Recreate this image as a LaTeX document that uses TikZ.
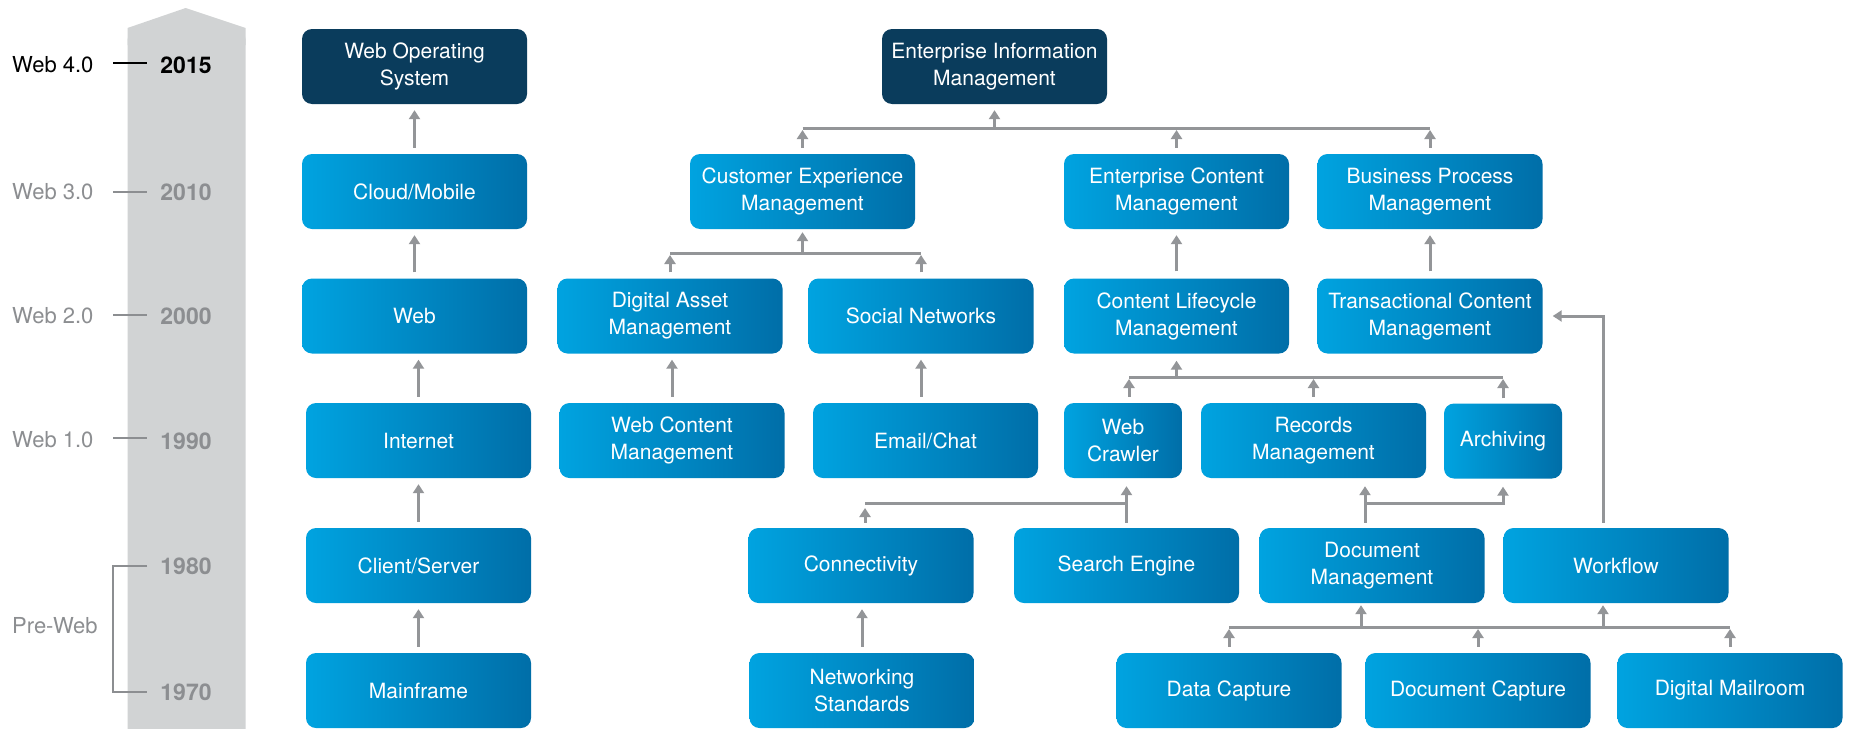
\documentclass[tikz,border=0pt]{standalone}
\usepackage{fontspec}
\setmainfont{TeX Gyre Heros}
\usetikzlibrary{arrows.meta}
\definecolor{boxL}{RGB}{0,163,224}
\definecolor{boxR}{RGB}{0,110,168}
\definecolor{darkc}{RGB}{10,60,92}
\definecolor{lgray}{RGB}{147,149,152}
\definecolor{band}{RGB}{209,211,212}
\definecolor{ygray}{RGB}{140,142,145}
\begin{document}
\begin{tikzpicture}[x=1pt,y=-1pt,
  basebox/.style={rounded corners=10pt, text=white, align=center, minimum width=225pt, minimum height=75pt, inner sep=0pt, font=\fontsize{21}{27}\selectfont},
  box/.style={basebox, left color=boxL, right color=boxR},
  darkbox/.style={basebox, fill=darkc},
  smallbox/.style={box, minimum width=118pt},
  arr/.style={draw=lgray, line width=3pt, -{Triangle[width=11pt,length=9pt]}},
  ln/.style={draw=lgray, line width=3pt},
  tick/.style={line width=2pt},
  lab/.style={anchor=west, inner sep=0pt, font=\fontsize{22}{22}\selectfont},
  yr/.style={inner sep=0pt, font=\bfseries\fontsize{23}{23}\selectfont},
]
\useasboundingbox (0,0) rectangle (1851,728);
\fill[white] (0,0) rectangle (1851,728);
% timeline band
\fill[band, rounded corners=10pt] (127.5,30) rectangle (245.7,738);
\fill[band] (127.5,45) -- (127.5,28) -- (185.7,8) -- (245.7,28) -- (245.7,45) -- cycle;
% labels
\node[lab, text=black] (w4) at (12,65) {Web 4.0};
\node[yr, text=black] (y15) at (186,65) {2015};
\draw[tick, black] (113,63) -- (147,63);
\node[lab, text=ygray] (w3) at (12,192) {Web 3.0};
\node[yr, text=ygray] (y10) at (186,192) {2010};
\draw[tick, ygray] (113,191.5) -- (147,191.5);
\node[lab, text=ygray] (w2) at (12,316) {Web 2.0};
\node[yr, text=ygray] (y00) at (186,316) {2000};
\draw[tick, ygray] (113,314.5) -- (147,314.5);
\node[lab, text=ygray] (w1) at (12,440) {Web 1.0};
\node[yr, text=ygray] (y90) at (186,441) {1990};
\draw[tick, ygray] (113,437.5) -- (147,437.5);
\node[yr, text=ygray] (y80) at (186,566) {1980};
\node[yr, text=ygray] (y70) at (186,692) {1970};
\node[lab, text=ygray] (pw) at (12,626) {Pre-Web};
\draw[tick, ygray] (147,566) -- (113,566) -- (113,692) -- (147,692);

% left column
\node[darkbox] (webos) at (414.5,66.5) {Web Operating\\System};
\node[box] (cloud) at (414.5,191.5) {Cloud/Mobile};
\node[box] (web) at (414.5,316) {Web};
\node[box] (inet) at (418.5,440.5) {Internet};
\node[box] (cs) at (418.5,565.5) {Client/Server};
\node[box] (mf) at (418.5,690.5) {Mainframe};

% right part
\node[darkbox] (eim) at (994.5,66.5) {Enterprise Information\\Management};
\node[box] (cem) at (802.5,191.5) {Customer Experience\\Management};
\node[box] (ecm) at (1176.5,191.5) {Enterprise Content\\Management};
\node[box] (bpm) at (1430,191.5) {Business Process\\Management};
\node[box] (dam) at (670,316) {Digital Asset\\Management};
\node[box] (sn) at (921,316) {Social Networks};
\node[box] (clm) at (1176.5,316) {Content Lifecycle\\Management};
\node[box] (tcm) at (1430,316) {Transactional Content\\Management};
\node[box] (wcm) at (672,440.5) {Web Content\\Management};
\node[box] (email) at (925.5,440.5) {Email/Chat};
\node[smallbox] (wc) at (1123,440.5) {Web\\Crawler};
\node[box] (rec) at (1313.5,440.5) {Records\\Management};
\node[smallbox] (arch) at (1503,441) {Archiving};
\node[box] (conn) at (861,565.5) {Connectivity};
\node[box] (se) at (1126.5,565.5) {Search Engine};
\node[box] (docm) at (1372,565.5) {Document\\Management};
\node[box] (wf) at (1616,565.5) {Workflow};
\node[box] (ns) at (862,690.5) {Networking\\Standards};
\node[box] (dc) at (1229,690.5) {Data Capture};
\node[box] (dcap) at (1478,690.5) {Document Capture};
\node[box] (dmr) at (1730,690.5) {Digital Mailroom};

% left column arrows
\draw[arr, shorten <=6pt, shorten >=6pt] (cloud.north) -- (webos.south);
\draw[arr, shorten <=6pt, shorten >=6pt] (web.north) -- (cloud.south);
\draw[arr, shorten <=6pt, shorten >=6pt] (inet.north) -- (inet.north |- web.south);
\draw[arr, shorten <=6pt, shorten >=6pt] (cs.north) -- (inet.south);
\draw[arr, shorten <=6pt, shorten >=6pt] (mf.north) -- (cs.south);

% bar 1
\coordinate (bar1) at (0,128);
\draw[ln] (cem.north |- bar1) -- (bpm.north |- bar1);
\draw[arr, shorten >=6pt] (eim.south |- bar1) -- (eim.south);
\foreach \n in {cem,ecm,bpm}
  \draw[arr, shorten <=6pt, shorten >=2pt] (\n.north) -- (\n.north |- bar1);

% bar 2
\coordinate (bar2) at (0,253);
\draw[ln] (dam.north |- bar2) -- (sn.north |- bar2);
\draw[arr, shorten >=3pt] (cem.south |- bar2) -- (cem.south);
\foreach \n in {dam,sn}
  \draw[arr, shorten <=6pt, shorten >=2pt] (\n.north) -- (\n.north |- bar2);
\draw[arr, shorten <=6pt, shorten >=6pt] (wcm.north) -- (wcm.north |- dam.south);
\draw[arr, shorten <=6pt, shorten >=6pt] (sn.south |- email.north) -- (sn.south);

\draw[arr, shorten <=7pt, shorten >=6pt] (clm.north) -- (ecm.south);
\draw[arr, shorten <=7pt, shorten >=6pt] (tcm.north) -- (bpm.south);

% bar 3
\coordinate (bar3) at (0,377);
\draw[ln] ([xshift=6pt]wc.north |- bar3) -- (arch.north |- bar3);
\draw[arr, shorten >=7pt] (clm.south |- bar3) -- (clm.south);
\draw[arr, shorten <=6pt, shorten >=2pt] ([xshift=6pt]wc.north) -- ([xshift=6pt]wc.north |- bar3);
\draw[arr, shorten <=6pt, shorten >=2pt] (rec.north) -- (rec.north |- bar3);
\draw[arr, shorten <=5pt, shorten >=2pt] (arch.north) -- (arch.north |- bar3);

% bar 4
\coordinate (bar4) at (0,503);
\draw[arr, shorten <=5pt, shorten >=8pt] (se.north) -- (se.north |- wc.south);
\draw[ln] ([xshift=4pt]conn.north |- bar4) -- (se.north |- bar4);
\draw[arr, shorten <=5pt, shorten >=5pt] ([xshift=4pt]conn.north) -- ([xshift=4pt]conn.north |- bar4);
\draw[arr, shorten <=5pt, shorten >=8pt] ([xshift=-7pt]docm.north) -- ([xshift=-7pt]docm.north |- rec.south);
\draw[arr, shorten >=8pt] ([xshift=-7pt]docm.north |- bar4) -| (arch.south);

% workflow to TCM
\draw[arr, shorten <=5pt, shorten >=10pt] ([xshift=-13pt]wf.north) |- (tcm.east);

% bar 5
\coordinate (bar5) at (0,627);
\draw[ln] (dc.north |- bar5) -- (dmr.north |- bar5);
\foreach \n in {dc,dcap,dmr}
  \draw[arr, shorten <=6pt, shorten >=2pt] (\n.north) -- (\n.north |- bar5);
\draw[arr, shorten >=2pt] ([xshift=-11pt]docm.south |- bar5) -- ([xshift=-11pt]docm.south);
\draw[arr, shorten >=2pt] ([xshift=-13pt]wf.south |- bar5) -- ([xshift=-13pt]wf.south);

% networking
\draw[arr, shorten <=6pt, shorten >=6pt] (ns.north) -- (ns.north |- conn.south);
\end{tikzpicture}
\end{document}
